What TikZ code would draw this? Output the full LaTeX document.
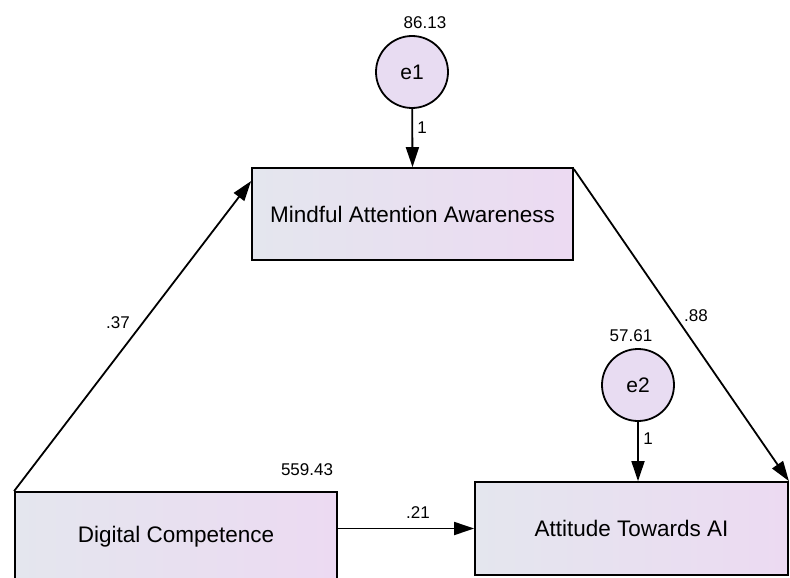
\documentclass[tikz,border=0pt]{standalone}
\usepackage{fontspec}
\setmainfont{Liberation Sans}
\usetikzlibrary{arrows.meta, positioning}

\definecolor{boxleft}{RGB}{228,230,238}
\definecolor{boxright}{RGB}{236,218,242}
\definecolor{errfill}{RGB}{232,220,242}

\tikzset{
  obsbox/.style={draw, line width=1.8pt, left color=boxleft, right color=boxright,
    minimum width=#1, minimum height=92pt, inner sep=0pt,
    font=\fontsize{22.5}{26}\selectfont},
  errnode/.style={draw, circle, line width=1.8pt, fill=errfill, minimum size=72pt,
    inner sep=0pt, font=\fontsize{21}{25}\selectfont},
  estlabel/.style={inner sep=0pt, font=\fontsize{17}{20}\selectfont},
  path/.style={line width=1.8pt, -{Triangle[length=20pt, width=13pt]}}
}

\begin{document}
\begin{tikzpicture}[x=1pt, y=-1pt]
        \useasboundingbox (0,0) rectangle (790,578);
        \clip (0,0) rectangle (790,578);

        % Observed variables
        \node[obsbox=321pt] (maa) at (412.5,214) {Mindful Attention Awareness};
        \node[obsbox=322pt, minimum height=90pt] (dc) at (176,537) {Digital Competence};
        \node[obsbox=313pt, minimum height=93pt] (atai) at (631.5,528.5) {Attitude Towards AI};

        % Error terms
        \node[errnode] (e1) at (412,72) {e1};
        \node[errnode] (e2) at (638,385) {e2};

        % Variances
        \node[estlabel] (v1) at (425,23) {86.13};
        \node[estlabel] (v2) at (631,336) {57.61};
        \node[estlabel] (v3) at (307,470) {559.43};

        % Paths
        \draw[path] (e1) -- (maa.north);
        \draw[path] (e2) -- (atai.north -| e2);
        \draw[path] (dc.north west) -- ([yshift=-14pt]maa.north west);
        \draw[path] ([yshift=-2pt]maa.north east) -- (atai.north east);
        \draw[path] (atai.west -| dc.east) -- (atai.west);

        % Path labels
        \node[estlabel] (w1) at (422,128) {1};
        \node[estlabel] (w2) at (648,439) {1};
        \node[estlabel] (b1) at (118,323) {.37};
        \node[estlabel] (b2) at (696,316) {.88};
        \node[estlabel] (b3) at (418,513) {.21};
    \end{tikzpicture}
\end{document}
